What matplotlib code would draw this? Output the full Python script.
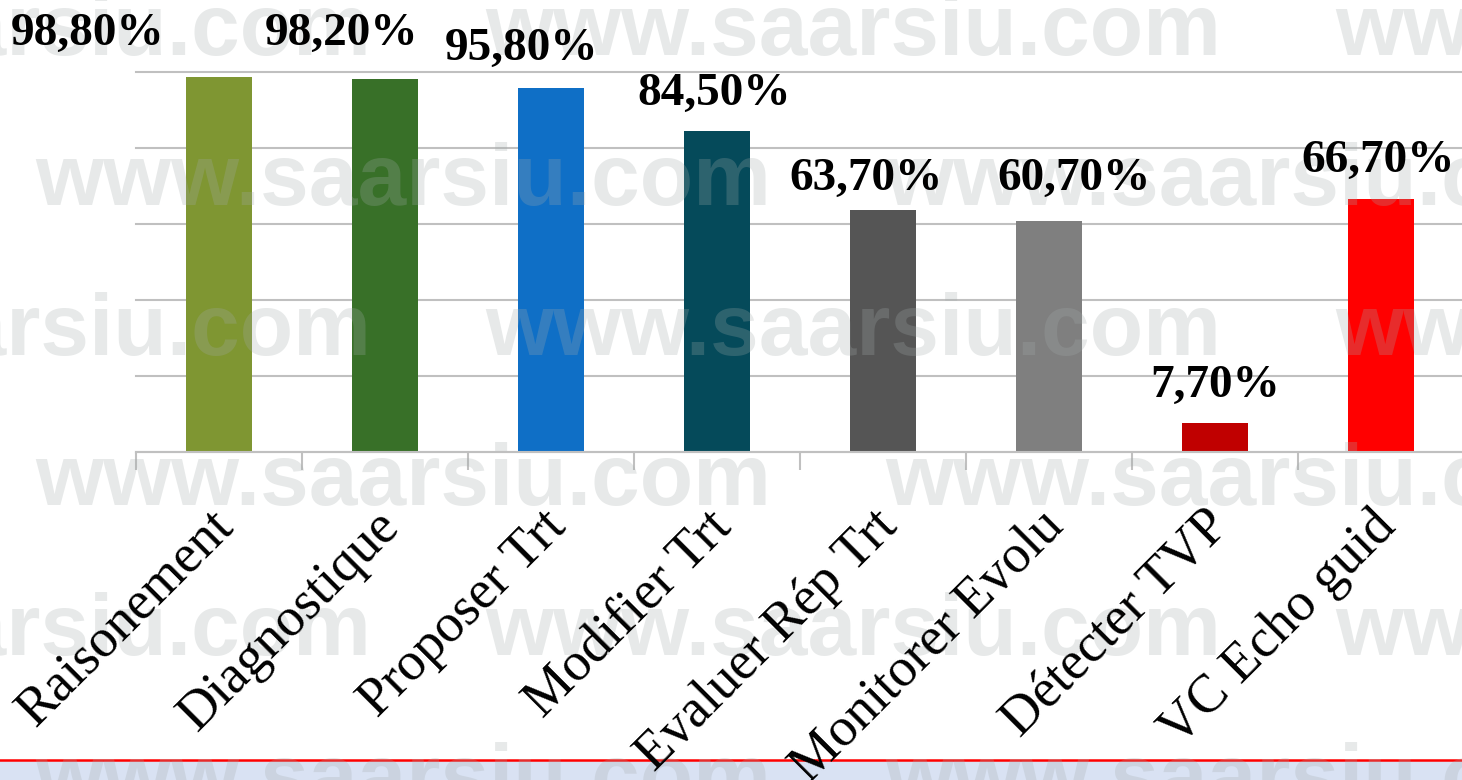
import matplotlib
matplotlib.use("Agg")
import matplotlib.pyplot as plt
from matplotlib.lines import Line2D
from matplotlib.patches import Rectangle

# chart data
categories = ["Raisonement", "Diagnostique", "Proposer Trt", "Modifier Trt",
              "Evaluer Rép Trt", "Monitorer Evolu", "Détecter TVP", "VC Echo guid"]
values = [98.8, 98.2, 95.8, 84.5, 63.7, 60.7, 7.7, 66.7]
value_labels = ["98,80%", "98,20%", "95,80%", "84,50%", "63,70%", "60,70%", "7,70%", "66,70%"]
bar_colors = ["#7f9632", "#387028", "#0f6fc6", "#054a5a",
              "#555555", "#7f7f7f", "#c00000", "#ff0000"]

# manual nudges of the value labels (category units / points above bar)
label_dx = [-0.79, -0.26, -0.18, -0.02, -0.10, 0.15, 0.0, -0.02]
label_gap = [22.8, 24.3, 20.2, 18.7, 14.4, 22.3, 18.7, 19.1]

W, H = 1462, 780
fig = plt.figure(figsize=(W / 100, H / 100), dpi=100)
fig.patch.set_facecolor("white")

# bottom band + red rule
fig.add_artist(Rectangle((0, 0), 1, 19.5 / H, transform=fig.transFigure,
                         facecolor="#d9e2f3", edgecolor="none", zorder=-2))
fig.add_artist(Line2D([0, 1], [1 - 759.8 / H] * 2, transform=fig.transFigure,
                      color="#ff0000", lw=1.8, zorder=-1))

ax = fig.add_axes([136 / W, 1 - 452 / H, 1328 / W, 380 / H])
x = list(range(len(categories)))
ax.bar(x, values, width=0.4, color=bar_colors, zorder=2)

ax.set_xlim(-0.5, len(categories) - 0.5)
ax.set_ylim(0, 100)
ax.set_yticks([0, 20, 40, 60, 80, 100])
ax.set_yticklabels([])
ax.tick_params(axis="y", length=0)
ax.set_axisbelow(True)
ax.grid(axis="y", color="#c0c0c0", lw=1.5)
for gl in ax.yaxis.get_gridlines():
    gl.set_clip_on(False)

ax.set_xticks(x)
ax.set_xticklabels([])
ax.tick_params(axis="x", which="major", length=0)
ax.set_xticks([i - 0.5 for i in range(len(categories) + 1)], minor=True)
ax.tick_params(axis="x", which="minor", length=13, width=1.5, color="#c0c0c0")

for s in ["top", "left", "right"]:
    ax.spines[s].set_visible(False)
ax.spines["bottom"].set_color("#c0c0c0")
ax.spines["bottom"].set_linewidth(1.5)

# watermark
for k in range(6):
    yb = 55 + 150 * k
    starts = [-365, 485, 1335] if k % 2 == 0 else [35, 885]
    for xs in starts:
        ax.text(xs / W, 1 - yb / H, "www.saarsiu.com", transform=fig.transFigure,
                fontsize=63, fontweight="bold", family="Liberation Sans",
                color=(0.64, 0.67, 0.67), alpha=0.26, ha="left", va="baseline",
                zorder=3, clip_on=False)

# value labels
for i, v in enumerate(values):
    ax.annotate(value_labels[i], xy=(i + label_dx[i], v), xytext=(0, label_gap[i]),
                textcoords="offset points", ha="center", va="baseline",
                fontsize=34, fontweight="bold", family="Liberation Serif",
                color="black", zorder=5, annotation_clip=False)

# category labels
for i, c in enumerate(categories):
    ax.annotate(c, xy=(i, 0), xytext=(5, -48), textcoords="offset points",
                rotation=45, rotation_mode="anchor", ha="right", va="center",
                fontsize=39, family="Liberation Serif", color="black",
                zorder=5, annotation_clip=False)

fig.savefig("out.png", dpi=100)
